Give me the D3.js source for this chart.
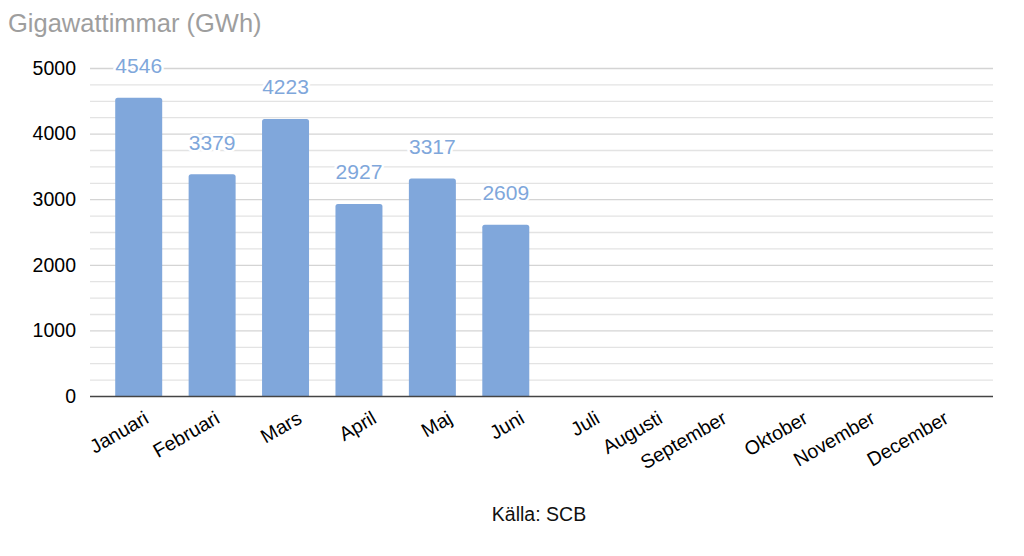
<!DOCTYPE html>
<html>
<head>
<meta charset="utf-8">
<script src="https://cdn.jsdelivr.net/npm/d3@7"></script>
<style>
  body { margin: 0; background: #fff; }
  svg { font-family: "Liberation Sans", Arial, sans-serif; display: block; }
</style>
</head>
<body>
<svg width="1024" height="556"></svg>
<script>
// data
var months = ["Januari", "Februari", "Mars", "April", "Maj", "Juni", "Juli",
  "Augusti", "September", "Oktober", "November", "December"];
var values = [4546, 3379, 4223, 2927, 3317, 2609, null, null, null, null, null, null];
var yTicks = [0, 1000, 2000, 3000, 4000, 5000];

var svg = d3.select("svg"),
    width = +svg.attr("width"),
    height = +svg.attr("height");

var plotLeft = 90, plotRight = 993, plotTop = 68, plotBottom = 396;

var x = d3.scaleBand()
    .domain(months)
    .range([102, 983])
    .paddingInner(0.36)
    .paddingOuter(0.18);

var y = d3.scaleLinear()
    .domain([0, 5000])
    .range([plotBottom, plotTop]);

// title
svg.append("text")
    .attr("x", 8)
    .attr("y", 32)
    .attr("font-size", 25.5)
    .attr("fill", "#9e9e9e")
    .text("Gigawattimmar (GWh)");

// grid lines every 250
var grid = d3.range(250, 5001, 250);
svg.append("g").selectAll("line")
    .data(grid)
    .enter().append("line")
    .attr("x1", plotLeft).attr("x2", plotRight)
    .attr("y1", d => y(d) + 0.5).attr("y2", d => y(d) + 0.5)
    .attr("stroke", d => d % 1000 == 0 ? "#d4d4d4" : "#e3e3e3")
    .attr("stroke-width", 1.3);

// y axis labels
svg.append("g").selectAll("text")
    .data(yTicks)
    .enter().append("text")
    .attr("x", 76)
    .attr("y", d => y(d))
    .attr("dy", "0.35em")
    .attr("text-anchor", "end")
    .attr("font-size", 19.5)
    .attr("fill", "#000")
    .text(d => d);

// bars
var data = months.map((m, i) => ({ month: m, value: values[i] })).filter(d => d.value != null);

svg.append("g").selectAll("path")
    .data(data)
    .enter().append("path")
    .attr("fill", "#80a7db")
    .attr("d", function (d) {
        var x0 = x(d.month), w = x.bandwidth(), y0 = y(d.value), r = 2.5;
        return "M" + x0 + "," + plotBottom +
            "V" + (y0 + r) +
            "Q" + x0 + "," + y0 + " " + (x0 + r) + "," + y0 +
            "H" + (x0 + w - r) +
            "Q" + (x0 + w) + "," + y0 + " " + (x0 + w) + "," + (y0 + r) +
            "V" + plotBottom + "Z";
    });

// baseline
svg.append("line")
    .attr("x1", plotLeft).attr("x2", plotRight)
    .attr("y1", plotBottom + 0.5).attr("y2", plotBottom + 0.5)
    .attr("stroke", "#444")
    .attr("stroke-width", 1.3);

// value labels with white halo
svg.append("g").selectAll("text")
    .data(data)
    .enter().append("text")
    .attr("x", d => x(d.month) + x.bandwidth() / 2)
    .attr("y", d => y(d.value) - 32)
    .attr("dy", "0.35em")
    .attr("text-anchor", "middle")
    .attr("font-size", 21)
    .attr("fill", "#7fa7db")
    .attr("stroke", "#fff")
    .attr("stroke-width", 5)
    .attr("paint-order", "stroke")
    .text(d => d.value);

// x labels rotated; longer labels sit a bit further left
svg.append("g").selectAll("text")
    .data(months)
    .enter().append("text")
    .attr("text-anchor", "end")
    .attr("font-size", 19.5)
    .attr("fill", "#000")
    .text(d => d)
    .attr("transform", function (d) {
        var w = this.getComputedTextLength();
        var cx = x(d) + x.bandwidth() / 2 + 12 - 0.3 * (w - 62);
        return "translate(" + cx + "," + (plotBottom + 26) + ") rotate(-30)";
    });

// source
svg.append("text")
    .attr("x", 539)
    .attr("y", 521)
    .attr("text-anchor", "middle")
    .attr("font-size", 19.5)
    .attr("fill", "#111")
    .text("Källa: SCB");
</script>
</body>
</html>
